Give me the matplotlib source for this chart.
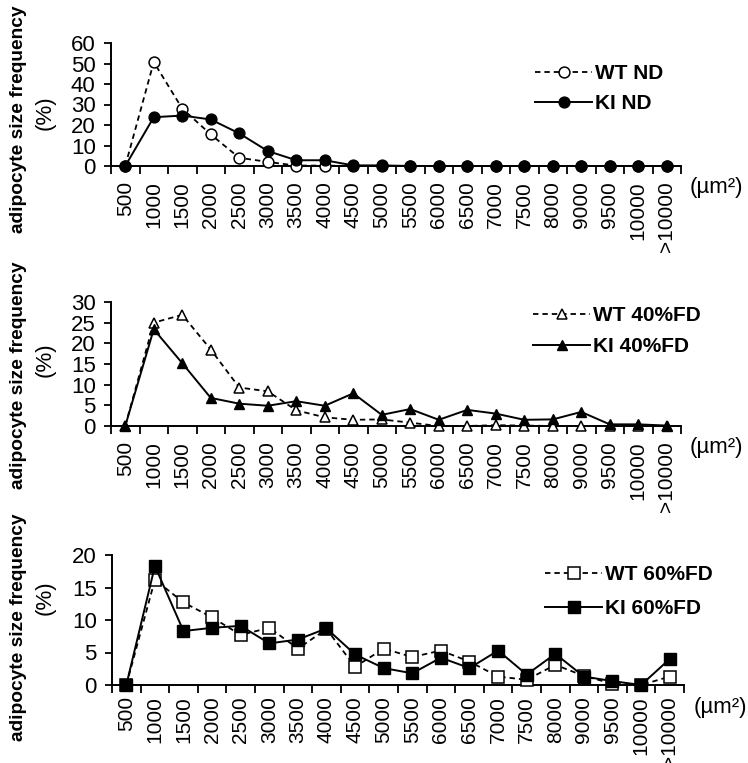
import matplotlib
matplotlib.use("Agg")
import matplotlib.pyplot as plt
import numpy as np

plt.rcParams['font.family'] = ['Liberation Sans', 'DejaVu Sans']

# adipocyte area bins (um^2)
bins = ["500", "1000", "1500", "2000", "2500", "3000", "3500", "4000",
        "4500", "5000", "5500", "6000", "6500", "7000", "7500", "8000",
        "9000", "9500", "10000", ">10000"]

# frequency (%) per bin
wt_nd = [0, 50.7, 28.0, 15.4, 4.0, 2.0, 0.2, 0.2, 0, 0,
         0, 0, 0, 0, 0, 0, 0, 0, 0, 0]
ki_nd = [0, 23.8, 24.6, 22.7, 15.9, 7.3, 2.8, 2.8, 0.3, 0.3,
         0, 0, 0, 0, 0, 0, 0, 0, 0, 0]

wt_40 = [0, 25.0, 26.9, 18.5, 9.3, 8.4, 3.8, 2.1, 1.5, 1.6,
         0.8, 0, 0, 0.2, 0.1, 0, 0, 0, 0, 0]
ki_40 = [0, 23.4, 15.2, 6.8, 5.4, 4.9, 6.0, 4.9, 7.9, 2.7,
         4.1, 1.5, 3.9, 3.0, 1.5, 1.6, 3.4, 0.4, 0.4, 0.1]

wt_60 = [0, 16.2, 12.7, 10.4, 7.7, 8.8, 5.6, 8.6, 2.8, 5.6,
         4.3, 5.3, 3.6, 1.3, 0.8, 3.1, 1.4, 0.2, 0, 1.3]
ki_60 = [0, 18.3, 8.3, 8.8, 9.1, 6.4, 7.0, 8.7, 4.7, 2.6,
         1.8, 4.2, 2.6, 5.3, 1.6, 4.8, 1.3, 0.6, 0, 4.0]

W, H = 748, 763
fig = plt.figure(figsize=(W / 100, H / 100), dpi=100)


def px(x, y):
    # pixel (from top-left) -> figure fraction
    return x / W, 1 - y / H


def panel(left, right, y0, ytop, wt, ki, marker, ms, ymax, ystep,
          names, leg_xy, leg_space, unit_xy, lab_y, pct_y, xpad=11):
    x0, b = px(left, y0)
    x1, t = px(right, ytop)
    ax = fig.add_axes([x0, b, x1 - x0, t - b])
    x = np.arange(len(bins))
    ax.plot(x, wt, linestyle=(0, (3.0, 2.2)), color="black", lw=1.3,
            marker=marker, ms=ms, mfc="white", mec="black", mew=1.1,
            clip_on=False, zorder=3, label=names[0])
    ax.plot(x, ki, linestyle="-", color="black", lw=1.4,
            marker=marker, ms=ms, mfc="black", mec="black",
            clip_on=False, zorder=4, label=names[1])
    ax.set_xlim(-0.5, len(bins) - 0.5)
    ax.set_ylim(0, ymax)
    ax.set_yticks(np.arange(0, ymax + 0.1, ystep))
    ax.set_xticks(x)
    ax.set_xticklabels(bins, rotation=90, fontsize=15)
    ax.set_xticks(np.arange(-0.5, len(bins)), minor=True)
    ax.tick_params(axis="x", which="major", length=0, pad=xpad)
    ax.tick_params(axis="x", which="minor", length=6, width=1.3)
    ax.tick_params(axis="y", length=5, width=1.3, pad=6, labelsize=16)
    for s in ("top", "right"):
        ax.spines[s].set_visible(False)
    for s in ("left", "bottom"):
        ax.spines[s].set_linewidth(1.4)
    ax.legend(loc="upper left", bbox_to_anchor=px(*leg_xy),
              bbox_transform=fig.transFigure, frameon=False,
              borderpad=0, borderaxespad=0, handlelength=2.75,
              handletextpad=0.15, labelspacing=leg_space,
              prop={"weight": "bold", "size": 15})
    fig.text(*px(*unit_xy), "(µm²)", fontsize=16, ha="left", va="center")
    fig.text(*px(19, lab_y), "adipocyte size frequency", fontsize=13.8,
             fontweight="bold", rotation=90, ha="center", va="center")
    fig.text(*px(45, pct_y), "(%)", fontsize=16, rotation=90,
             ha="center", va="center")
    return ax


panel(111, 681, 166, 43, wt_nd, ki_nd, "o", 7.8, 60, 10,
      ["WT ND", "KI ND"], (535, 64), 0.54, (690, 187), 119, 113)
panel(111, 681, 426, 302, wt_40, ki_40, "^", 7.8, 30, 5,
      ["WT 40%FD", "KI 40%FD"], (533, 306), 0.6, (690, 448), 375, 360)
panel(112, 684, 685, 555, wt_60, ki_60, "s", 8.5, 20, 5,
      ["WT 60%FD", "KI 60%FD"], (545, 565), 0.74, (694, 707), 627, 598,
      xpad=8)

fig.savefig("out.png", dpi=100)
